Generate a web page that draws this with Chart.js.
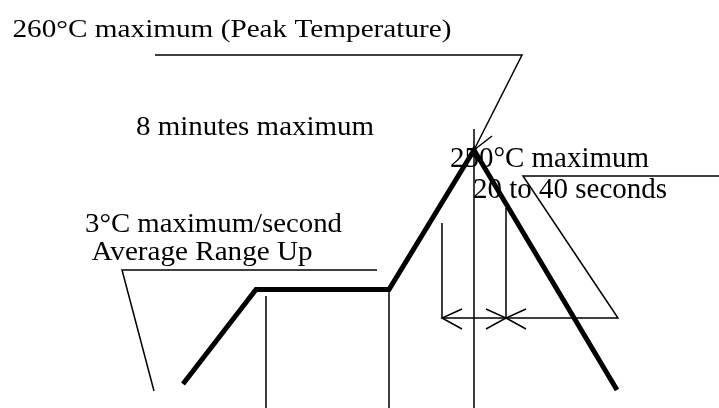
<!DOCTYPE html>
<html>
<head>
<meta charset="utf-8">
<script src="https://cdn.jsdelivr.net/npm/chart.js@4.4.1/dist/chart.umd.min.js"></script>
<style>
  html, body { margin: 0; padding: 0; background: #fff; }
  #wrap { width: 719px; height: 408px; position: relative; }
</style>
</head>
<body>
<div id="wrap"><canvas id="chart"></canvas></div>
<script>
// diagram units: x = time axis, y = height above the base line

// reflow profile (thick line)
const profileX = [183, 256, 389, 474, 617];
const profileY = [24, 118.5, 118.5, 258, 18];

// leader for peak temperature label, with arrow head
const peakLeaderX = [155, 522, 474];
const peakLeaderY = [353, 353, 258];
const peakHeadX = [474, 492];
const peakHeadY = [258, 272];
const peakDropX = [474, 474];
const peakDropY = [279, 0];

// leader for 20 to 40 seconds
const secLeaderX = [719, 523, 618, 442];
const secLeaderY = [232, 232, 90, 90];
const secLeftX = [442, 442];
const secLeftY = [185, 90];
const secRightX = [506, 506];
const secRightY = [200, 90];
const arrowAX = [462, 442, 462];
const arrowBX = [486, 506, 486];
const arrowCX = [526, 506, 526];
const arrowY = [99, 90, 79];

// leader for ramp-up label
const rampLeaderX = [377, 122, 154];
const rampLeaderY = [138, 138, 17];

// soak zone markers
const soakStartX = [266, 266];
const soakStartY = [112, 0];
const soakEndX = [389, 389];
const soakEndY = [118, 0];

// labels
const labelText = [
    '260\u00B0C maximum (Peak Temperature)',
    '8 minutes maximum',
    '250\u00B0C maximum',
    '20 to 40 seconds',
    '3\u00B0C maximum/second',
    'Average Range Up'
];
const labelX = [12.5, 136, 450, 473, 85, 91.5];
const labelY = [371.5, 273.5, 241.5, 209.7, 176.5, 148];

// label look: font size and full text width in pixels
const labelSize = [26, 27, 29, 29, 27, 27];
const labelWidth = [439, 238, 199, 194, 257, 221];

function pts(xs, ys) {
    return xs.map((x, i) => ({ x: x, y: ys[i] }));
}

function thin(xs, ys) {
    return {
        data: pts(xs, ys),
        showLine: true,
        borderColor: '#000',
        borderWidth: 1.5,
        pointRadius: 0,
        fill: false
    };
}

const labelPlugin = {
    id: 'labels',
    afterDraw(chart) {
        const c = chart.ctx;
        const sx = chart.scales.x;
        const sy = chart.scales.y;
        c.save();
        c.fillStyle = '#000';
        c.textBaseline = 'alphabetic';
        c.textAlign = 'left';
        labelText.forEach((t, i) => {
            c.font = labelSize[i] + 'px "Liberation Serif", "Times New Roman", serif';
            const w = c.measureText(t).width;
            const k = labelWidth[i] / w;
            const px = sx.getPixelForValue(labelX[i]);
            const py = sy.getPixelForValue(labelY[i]);
            c.save();
            c.translate(px, py);
            c.scale(k, 1);
            c.fillText(t, 0, 0);
            c.restore();
        });
        c.restore();
    }
};

const bgPlugin = {
    id: 'bg',
    beforeDraw(chart) {
        const c = chart.ctx;
        c.save();
        c.fillStyle = '#fff';
        c.fillRect(0, 0, chart.width, chart.height);
        c.restore();
    }
};

new Chart(document.getElementById('chart'), {
    type: 'scatter',
    data: {
        datasets: [
            {
                data: pts(profileX, profileY),
                showLine: true,
                borderColor: '#000',
                borderWidth: 5,
                borderJoinStyle: 'miter',
                pointRadius: 0,
                fill: false
            },
            thin(peakLeaderX, peakLeaderY),
            thin(peakHeadX, peakHeadY),
            thin(peakDropX, peakDropY),
            thin(secLeaderX, secLeaderY),
            thin(secLeftX, secLeftY),
            thin(secRightX, secRightY),
            thin(arrowAX, arrowY),
            thin(arrowBX, arrowY),
            thin(arrowCX, arrowY),
            thin(rampLeaderX, rampLeaderY),
            thin(soakStartX, soakStartY),
            thin(soakEndX, soakEndY)
        ]
    },
    options: {
        responsive: true,
        maintainAspectRatio: false,
        animation: false,
        devicePixelRatio: 1,
        layout: { padding: 0 },
        plugins: {
            legend: { display: false },
            tooltip: { enabled: false }
        },
        scales: {
            x: { type: 'linear', min: 0, max: 719, display: false },
            y: { type: 'linear', min: 0, max: 408, display: false }
        }
    },
    plugins: [bgPlugin, labelPlugin]
});
</script>
</body>
</html>
